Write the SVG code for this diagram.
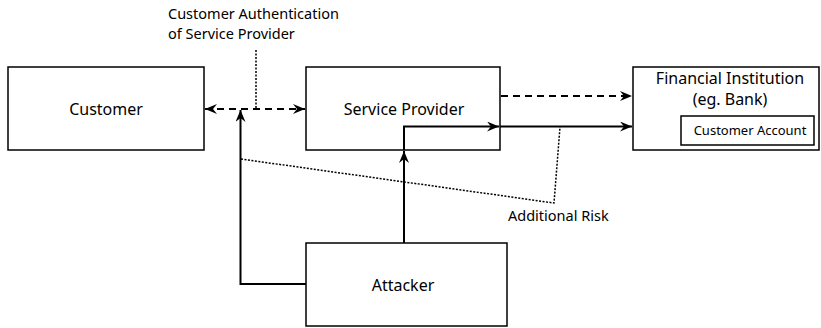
<svg xmlns="http://www.w3.org/2000/svg" width="821" height="328" viewBox="0 0 821 328">
<defs>
<marker id="ah" viewBox="0 0 12 10" refX="12" refY="5" markerWidth="12" markerHeight="10" markerUnits="userSpaceOnUse" orient="auto-start-reverse">
<path d="M0,0 L12,5 L0,10 L4,5 z" fill="#000"/>
</marker>
<style>
.box{fill:#fff;stroke:#000;stroke-width:1.5}
.t{font-family:"Noto Sans","Open Sans",sans-serif;font-size:16px;fill:#000;text-anchor:middle}
.s{font-family:"Noto Sans","Open Sans",sans-serif;font-size:14.5px;fill:#000}
.a{font-family:"Noto Sans","Open Sans",sans-serif;font-size:13px;fill:#000;text-anchor:middle}
.solid{fill:none;stroke:#000;stroke-width:2}
.dash{fill:none;stroke:#000;stroke-width:2;stroke-dasharray:7,5}
.dot{fill:none;stroke:#000;stroke-width:1.5;stroke-dasharray:2,1.5}
</style>
</defs>
<g id="customer"><rect class="box" x="8" y="67" width="196" height="83"/><text class="t" x="106" y="115">Customer</text></g>
<g id="service-provider"><rect class="box" x="306" y="67" width="194" height="83"/><text class="t" x="404" y="115">Service Provider</text></g>
<g id="financial-institution"><rect class="box" x="633" y="67" width="186" height="83"/><text class="t" x="730" y="84">Financial Institution</text><text class="t" x="730" y="105">(eg. Bank)</text>
<g id="customer-account"><rect class="box" x="681" y="116" width="133" height="29"/><text class="a" x="750" y="135">Customer Account</text></g></g>
<g id="attacker"><rect class="box" x="306" y="243" width="201" height="83"/><text class="t" x="403" y="291">Attacker</text></g>
<g id="labels">
<text class="s" x="168" y="19">Customer Authentication</text>
<text class="s" x="168" y="39">of Service Provider</text>
<text class="s" x="508" y="221">Additional Risk</text>
</g>
<g id="connectors">
<path class="dash" d="M205,109 L305,109" marker-start="url(#ah)" marker-end="url(#ah)"/>
<path class="dot" d="M256,50 L256,109"/>
<path class="solid" d="M306,284 L240.5,284 L240.5,110" marker-end="url(#ah)"/>
<path class="solid" d="M404,243 L404,151" marker-end="url(#ah)"/>
<path class="solid" d="M404,150 L404,126.5 L499,126.5" marker-end="url(#ah)"/>
<path class="solid" d="M500,126.5 L632,126.5" marker-end="url(#ah)"/>
<path class="dash" d="M501,96 L632,96" marker-end="url(#ah)"/>
<path class="dot" d="M241,159 L554,203 L560,127"/>
</g>
</svg>
